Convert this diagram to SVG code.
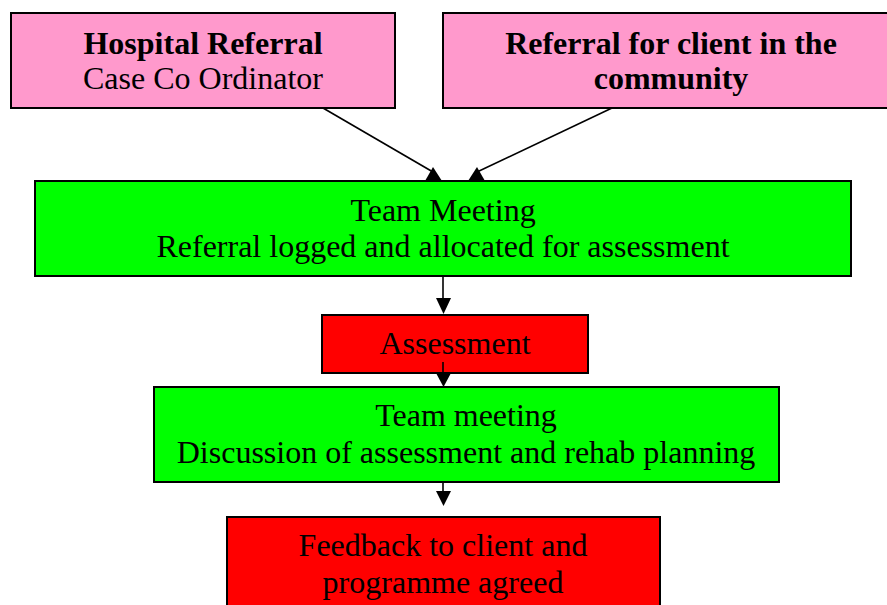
<svg xmlns="http://www.w3.org/2000/svg" width="887" height="605" viewBox="0 0 887 605">
<style>
.box{stroke:#000;stroke-width:2}
.pink{fill:#FF99CC}
.green{fill:#00FF00}
.red{fill:#FF0000}
text{font-family:"Liberation Serif","Times New Roman",serif;font-size:32px;fill:#000;text-anchor:middle}
.b{font-weight:bold}
.conn{stroke:#000;stroke-width:1.6;fill:none}
.head{fill:#000}
</style>
<rect width="887" height="605" fill="#fff"/>
<g id="hospital">
<rect class="box pink" x="11" y="13" width="384" height="95"/>
<text x="203" y="54" class="b">Hospital Referral</text>
<text x="203" y="89">Case Co Ordinator</text>
</g>
<g id="community">
<rect class="box pink" x="443" y="13" width="458" height="95"/>
<text x="671" y="54" class="b">Referral for client in the</text>
<text x="671" y="89" class="b">community</text>
</g>
<g id="team1">
<rect class="box green" x="35" y="181" width="816" height="95"/>
<text x="443" y="221">Team Meeting</text>
<text x="443" y="257">Referral logged and allocated for assessment</text>
</g>
<g id="assessment">
<rect class="box red" x="322" y="315" width="266" height="58"/>
<text x="455" y="354">Assessment</text>
</g>
<g id="team2">
<rect class="box green" x="154" y="387" width="625" height="95"/>
<text x="466" y="426">Team meeting</text>
<text x="466" y="463">Discussion of assessment and rehab planning</text>
</g>
<g id="feedback">
<rect class="box red" x="227" y="517" width="433" height="100"/>
<text x="443" y="556">Feedback to client and</text>
<text x="443" y="593">programme agreed</text>
</g>
<g id="connectors">
<line class="conn" x1="323" y1="108" x2="433" y2="172"/>
<polygon class="head" points="433,167 425,181 442,181"/>
<line class="conn" x1="612" y1="108" x2="477" y2="172"/>
<polygon class="head" points="477,167 468,181 485,181"/>
<line class="conn" x1="443" y1="276" x2="443" y2="300"/>
<polygon class="head" points="436,298 451,298 443.5,314"/>
<line class="conn" x1="443" y1="362" x2="443" y2="375"/>
<polygon class="head" points="436,373 451,373 443.5,387"/>
<line class="conn" x1="443" y1="482" x2="443" y2="493"/>
<polygon class="head" points="436,491 451,491 443.5,506"/>
</g>
</svg>
